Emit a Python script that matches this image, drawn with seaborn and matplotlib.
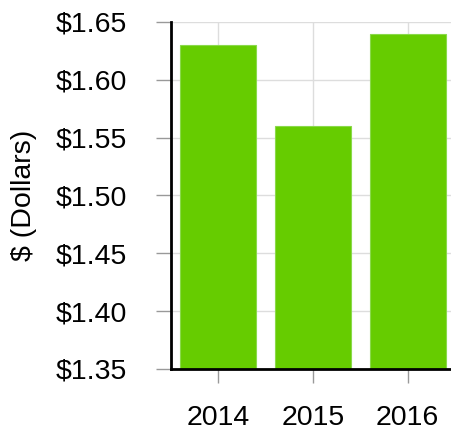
import matplotlib
matplotlib.use("Agg")
import matplotlib.pyplot as plt
import seaborn as sns
import pandas as pd
from matplotlib.ticker import FuncFormatter, MultipleLocator

years = ["2014", "2015", "2016"]
prices = [1.63, 1.56, 1.64]

sns.set_style("white")
plt.rcParams["font.family"] = ["Liberation Sans", "DejaVu Sans"]
plt.rcParams["text.color"] = "black"
plt.rcParams["axes.labelcolor"] = "black"
plt.rcParams["xtick.labelcolor"] = "black"
plt.rcParams["ytick.labelcolor"] = "black"

df = pd.DataFrame({"year": years, "price": prices})

fig = plt.figure(figsize=(4.52, 4.32), dpi=100)
ax = fig.add_axes([171 / 452, (432 - 369) / 432, (455 - 171) / 452, (369 - 22) / 432])

sns.barplot(data=df, x="year", y="price", ax=ax, color="#66cc00",
            saturation=1, width=0.8, edgecolor="#8ad94a", linewidth=0.8, zorder=2)

ax.set_ylim(1.35, 1.65)
ax.set_xlim(-0.495, 2.5)
ax.yaxis.set_major_locator(MultipleLocator(0.05))
ax.yaxis.set_major_formatter(FuncFormatter(lambda v, p: "${:.2f}".format(v)))

ax.grid(True, color="#dddddd", linewidth=1, zorder=0)
ax.set_axisbelow(True)

for s in ("top", "right"):
    ax.spines[s].set_visible(False)
for s in ("left", "bottom"):
    ax.spines[s].set_color("black")
    ax.spines[s].set_linewidth(2)
    ax.spines[s].set_zorder(3)

ax.tick_params(axis="y", length=11, width=1, color="#999999", pad=21, labelsize=20.5)
ax.tick_params(axis="x", length=10, width=1, color="#999999", pad=16, labelsize=20.5)
ax.tick_params(left=True, bottom=True)

ax.set_xlabel("")
ax.set_ylabel("$ (Dollars)", fontsize=20.5, labelpad=13)

fig.savefig("out.png", dpi=100)
